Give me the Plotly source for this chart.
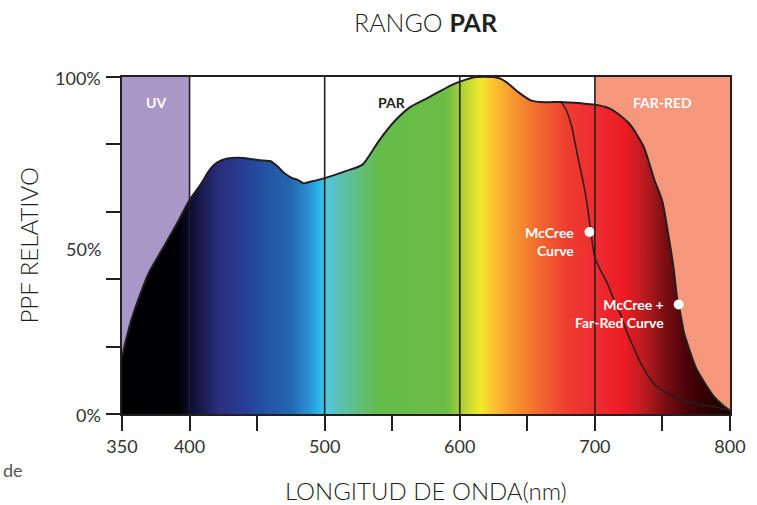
import plotly.graph_objects as go

# ---------------- data ----------------
wavelength = [350, 353, 357, 363, 370, 380, 390, 400, 408, 415, 420, 428, 440, 452, 460, 465,
              470, 476, 480, 484, 490, 500, 515, 528, 540, 552, 563, 575, 585, 595, 605, 612,
              625, 630, 636, 644, 653, 663, 675, 690, 700, 710, 716, 726, 736, 744, 750, 754,
              758, 761, 762, 766, 770, 775, 780, 788, 795, 800]
ppf_far_red = [17, 22, 28, 35, 42, 49, 56, 63.5, 68, 72.5, 74.5, 75.8, 76, 75.3, 75, 73.5,
               71.5, 70, 69.5, 68.5, 69, 70, 72, 74, 81, 87, 91, 93.5, 95.7, 97.8, 99.3, 100,
               100, 99.5, 98, 95.3, 93, 92.5, 92.6, 92.2, 91.8, 90.8, 89.4, 85.9, 79.4, 69.5, 63, 54,
               44, 34, 32.5, 24, 19, 13.5, 10, 5.2, 2.5, 1]

mccree_wl = [675, 679, 683, 687, 691, 694, 697, 700, 705, 709, 714, 718.5, 724, 729.5, 734,
             743, 750, 758, 768, 778, 790, 800]
mccree_ppf = [92.6, 90, 85, 77, 69.5, 63, 54, 46.4, 42, 39, 34, 30, 24, 19, 15,
              9.3, 7, 5.2, 3.8, 2.8, 2, 1]

spectrum_nm = [350, 392, 400, 410, 422, 440, 455, 475, 488, 496, 501, 512, 525, 540, 590,
               600, 610, 616, 623, 640, 660, 680, 700, 722, 737, 752, 768, 785, 800]
spectrum_colors = ["#000000", "#000005", "#0b0b30", "#1c1c52", "#2b2f7c", "#273b95", "#2351a1",
                   "#2467b2", "#2a8fd0", "#29b6ea", "#4fc7dc", "#5cc1b0", "#61be7e", "#64bc4b",
                   "#6bbd45", "#a4cb3b", "#d9e12c", "#f2ea2b", "#fdc82e", "#f6962f", "#f1662f",
                   "#ee3c30", "#ed2c30", "#ec1c24", "#b81b20", "#7a0e12", "#4a0208", "#2c0002",
                   "#1a0000"]

x_ticks = [350, 400, 450, 500, 550, 600, 650, 700, 750, 800]
x_tick_labels = ["350", "400", "", "500", "", "600", "", "700", "", "800"]
y_ticks = [0, 20, 40, 60, 80, 100]
y_label_values = [0, 50, 100]
y_label_texts = ["0%", "50%", "100%"]

region_names = ["UV", "PAR", "FAR-RED"]
region_label_x = [375, 550, 750]
region_label_colors = ["white", "#231f20", "white"]
uv_range = [350, 400]
far_red_range = [700, 800]
divider_lines = [400, 500, 600, 700]

marker_x = [696, 762]
marker_y = [54, 32.5]
marker_texts = ["McCree<br>Curve", "McCree +<br>Far-Red Curve"]

# ---------------- figure ----------------
LINE = "#231f20"
FONT = "Lato"

x_min, x_max = spectrum_nm[0], spectrum_nm[-1]
colorscale = [[(n - x_min) / (x_max - x_min), c] for n, c in zip(spectrum_nm, spectrum_colors)]

fig = go.Figure()

fig.add_trace(go.Scatter(
    x=wavelength, y=ppf_far_red, mode="lines", fill="tozeroy",
    line=dict(color=LINE, width=2, shape="spline", smoothing=0.6),
    fillgradient=dict(type="horizontal", colorscale=colorscale, start=x_min, stop=x_max),
    hoverinfo="skip", showlegend=False,
))

fig.add_trace(go.Scatter(
    x=mccree_wl, y=mccree_ppf, mode="lines",
    line=dict(color=LINE, width=1.5, shape="spline", smoothing=0.6),
    hoverinfo="skip", showlegend=False,
))

fig.add_trace(go.Scatter(
    x=marker_x, y=marker_y, mode="markers",
    marker=dict(color="white", size=10),
    hoverinfo="skip", showlegend=False,
))

shapes = [
    dict(type="rect", xref="x", yref="y", x0=uv_range[0], x1=uv_range[1], y0=0, y1=100,
         fillcolor="#ab96c8", line=dict(width=0), layer="below"),
    dict(type="rect", xref="x", yref="y", x0=far_red_range[0], x1=far_red_range[1], y0=0, y1=100,
         fillcolor="#f4977a", line=dict(width=0), layer="below"),
]
for xv in divider_lines:
    shapes.append(dict(type="line", xref="x", yref="y", x0=xv, x1=xv, y0=0, y1=100,
                       line=dict(color=LINE, width=1.6), layer="above"))

annotations = []
for name, xv, col in zip(region_names, region_label_x, region_label_colors):
    annotations.append(dict(x=xv, y=92.5, xref="x", yref="y", text=f"<b>{name}</b>",
                            showarrow=False, font=dict(family=FONT, size=14, color=col)))

for xv, yv, t in zip(marker_x, marker_y, marker_texts):
    annotations.append(dict(x=xv, y=yv, xref="x", yref="y", text=f"<b>{t}</b>", showarrow=False,
                            xanchor="right", yanchor="top", align="right", xshift=-13, yshift=10,
                            font=dict(family=FONT, size=14, color="white")))

for yv, t in zip(y_label_values, y_label_texts):
    annotations.append(dict(x=0, y=yv, xref="paper", yref="y", text=t, showarrow=False,
                            xanchor="right", xshift=-19, yshift=-3 if yv == 50 else -1,
                            font=dict(family=FONT, size=18, color="#333333")))

annotations += [
    dict(x=0.5, y=1, xref="paper", yref="paper", xanchor="center", yanchor="middle", yshift=55,
         text="RANGO <b>PAR</b>", showarrow=False,
         font=dict(family=FONT, size=25, color="#231f20", weight=300)),
    dict(x=0, y=0.5, xref="paper", yref="paper", xanchor="center", yanchor="middle",
         xshift=-94, text="PPF RELATIVO", textangle=-90,
         showarrow=False, font=dict(family=FONT, size=24, color="#231f20", weight=300)),
    dict(x=0.5, y=0, xref="paper", yref="paper", xanchor="center", yanchor="middle", yshift=-76,
         text="LONGITUD DE ONDA(nm)", showarrow=False,
         font=dict(family=FONT, size=24, color="#231f20", weight=300)),
    dict(x=0, y=0, xref="paper", yref="paper", xanchor="left", yanchor="middle",
         xshift=-121, yshift=-56, text="de", showarrow=False,
         font=dict(family=FONT, size=18, color="#555555")),
]

fig.update_layout(
    width=757, height=505,
    margin=dict(l=122, r=27, t=77, b=91),
    paper_bgcolor="white", plot_bgcolor="white",
    shapes=shapes, annotations=annotations,
    font=dict(family=FONT, color="#231f20"),
    xaxis=dict(range=[x_min, x_max], tickvals=x_ticks, ticktext=x_tick_labels,
               ticks="outside", ticklen=15, tickwidth=2, tickcolor=LINE,
               showline=True, linecolor=LINE, linewidth=2, mirror=True,
               showgrid=False, zeroline=False,
               tickfont=dict(family=FONT, size=18, color="#333333")),
    yaxis=dict(range=[0, 100], tickvals=y_ticks, showticklabels=False,
               ticks="outside", ticklen=14, tickwidth=2, tickcolor=LINE,
               showline=True, linecolor=LINE, linewidth=2, mirror=True,
               showgrid=False, zeroline=False),
)

fig.write_html("out.html", config={"displayModeBar": False},
               post_script="document.body.style.margin='0';document.body.style.overflow='hidden';")
